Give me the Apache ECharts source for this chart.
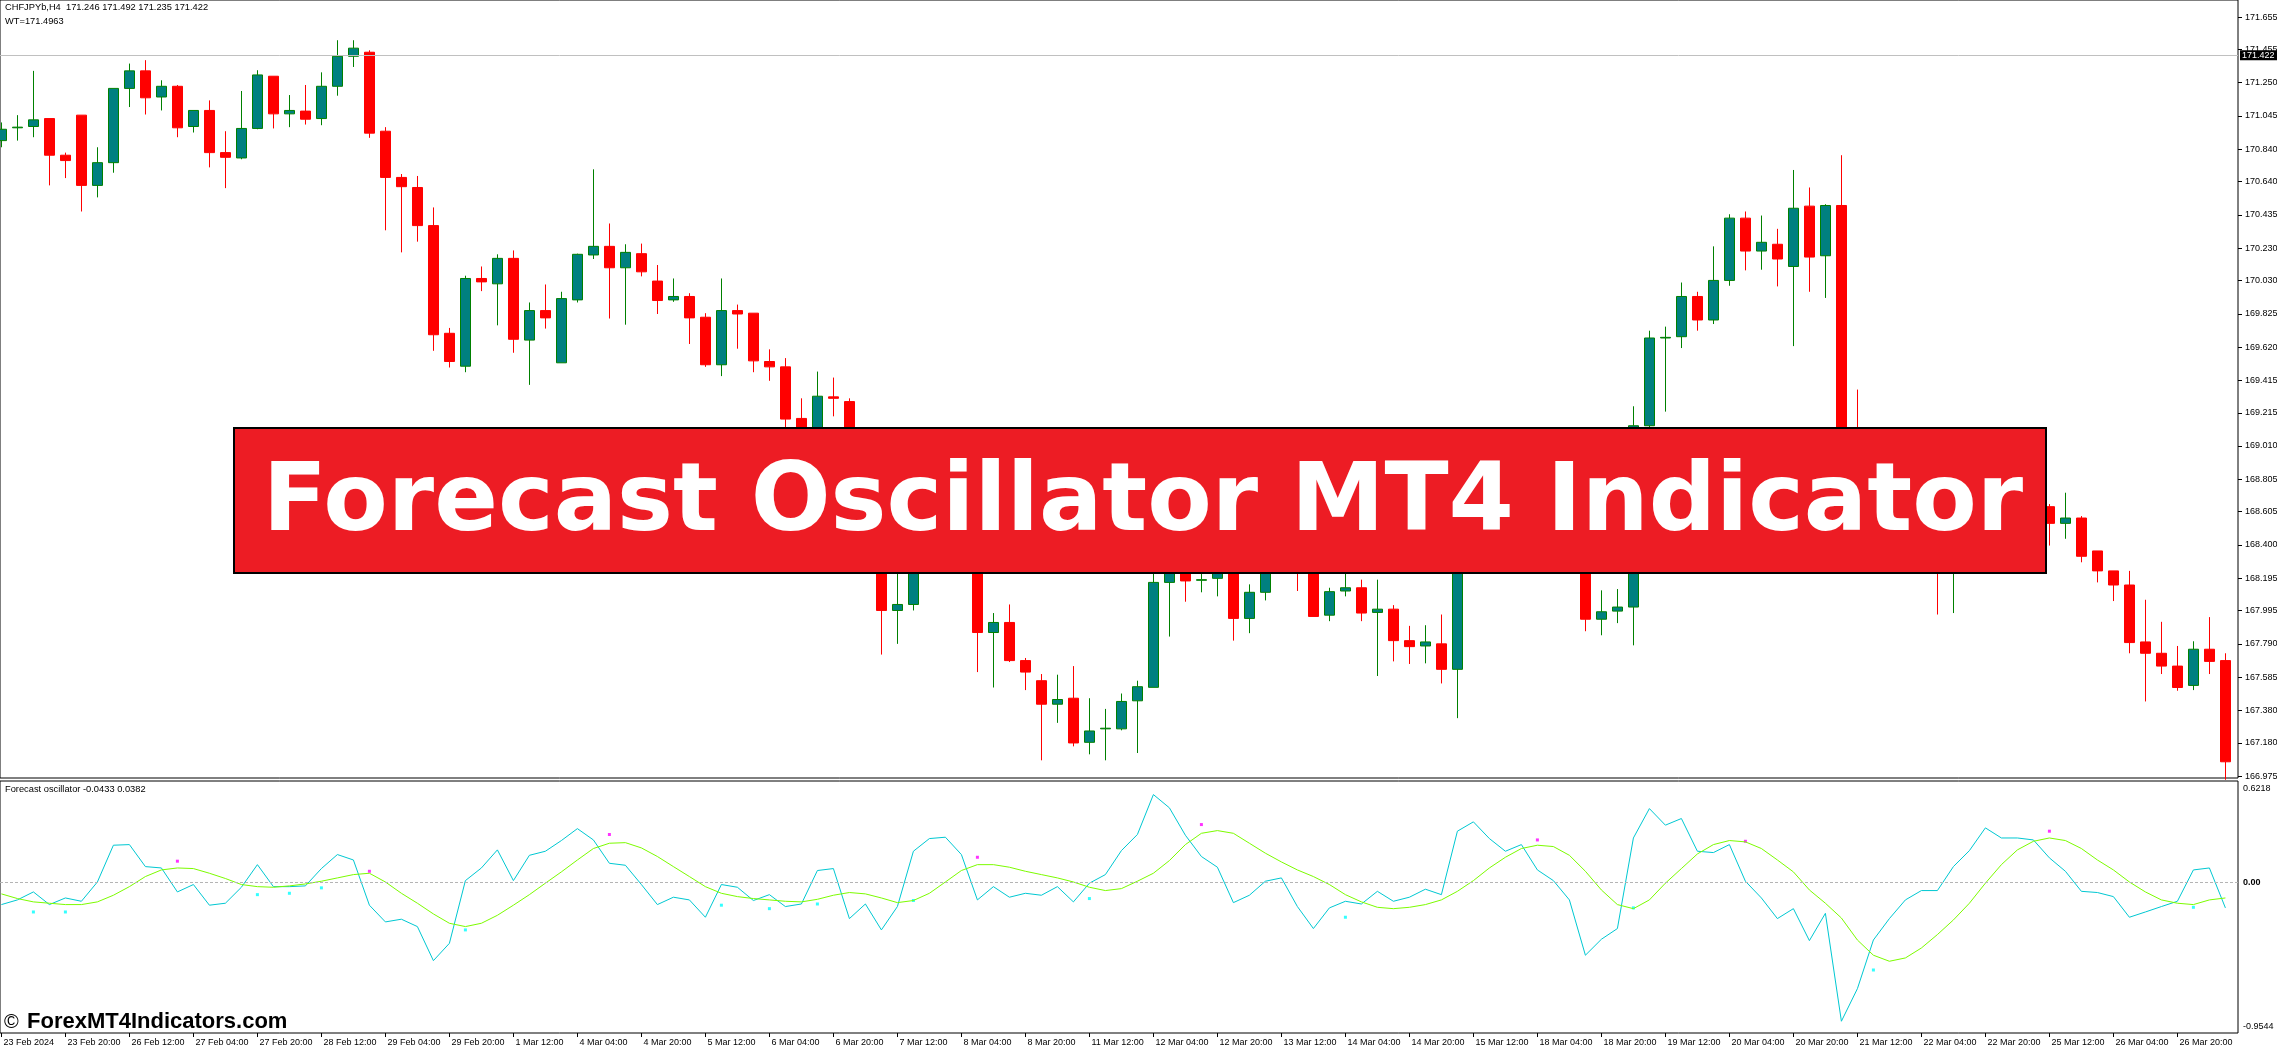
<!DOCTYPE html>
<html><head><meta charset="utf-8">
<script src="https://cdn.jsdelivr.net/npm/echarts@6/dist/echarts.min.js"></script>
<style>html,body{margin:0;padding:0;background:#fff;overflow:hidden}#c{width:2277px;height:1048px}</style>
</head><body><div id="c"></div><script>
// ---------- DATA ----------
const headerLine1 = 'CHFJPYb,H4  171.246 171.492 171.235 171.422';
const headerLine2 = 'WT=171.4963';
const oscHeader = 'Forecast oscillator -0.0433 0.0382';
const bannerText = 'Forecast Oscillator MT4 Indicator';
const bidPrice = 171.422;
const bidLabel = '171.422';

const opens = [170.893,170.972,170.980,171.029,170.803,171.050,170.617,170.757,171.215,171.323,
171.162,171.228,170.980,171.079,170.819,170.786,170.968,171.290,171.058,171.075,
171.029,171.228,171.413,171.438,170.951,170.666,170.604,170.369,169.705,169.502,
170.043,170.010,170.167,169.663,169.845,169.523,169.911,170.188,170.241,170.109,
170.196,170.027,169.911,169.932,169.804,169.511,169.845,169.829,169.531,169.498,
169.180,169.030,169.313,169.284,168.950,168.600,167.996,168.033,168.350,168.600,
168.450,168.550,167.860,167.922,167.687,167.563,167.418,167.455,167.183,167.266,
167.266,167.439,167.522,168.169,168.350,168.182,168.194,168.300,167.947,168.108,
168.250,168.300,168.250,167.967,168.116,168.136,167.984,168.004,167.810,167.777,
167.790,167.633,168.700,168.850,168.700,168.550,168.720,168.620,168.500,168.550,
167.942,167.992,168.017,169.135,169.676,169.684,169.932,169.787,170.031,170.415,
170.212,170.254,170.117,170.489,170.183,170.493,168.950,168.750,168.550,168.700,
168.550,168.400,168.300,168.500,168.650,168.800,168.700,168.750,168.636,168.533,
168.566,168.363,168.240,168.153,167.802,167.732,167.653,167.534,167.757,167.687];

const closes = [170.963,170.976,171.021,170.803,170.770,170.617,170.757,171.215,171.323,171.157,
171.228,170.972,171.079,170.819,170.790,170.968,171.298,171.058,171.079,171.025,
171.228,171.413,171.463,170.939,170.666,170.609,170.369,169.696,169.531,170.043,
170.022,170.167,169.668,169.845,169.800,169.919,170.192,170.241,170.109,170.204,
170.084,169.907,169.932,169.800,169.511,169.845,169.824,169.535,169.498,169.176,
169.020,169.317,169.304,168.950,168.600,167.996,168.033,168.350,168.600,168.450,
168.550,167.860,167.922,167.687,167.616,167.418,167.447,167.179,167.253,167.270,
167.435,167.526,168.169,168.400,168.178,168.186,168.300,167.947,168.108,168.250,
168.300,168.240,167.959,168.112,168.136,167.980,168.004,167.810,167.773,167.802,
167.633,168.700,168.850,168.700,168.550,168.720,168.620,168.500,168.550,167.942,
167.988,168.017,169.135,169.676,169.680,169.932,169.787,170.031,170.415,170.212,
170.266,170.163,170.476,170.175,170.493,168.900,168.750,168.550,168.700,168.550,
168.400,168.300,168.500,168.650,168.800,168.700,168.750,168.650,168.533,168.566,
168.330,168.240,168.153,167.798,167.732,167.653,167.521,167.757,167.682,167.063];

const lows = [170.852,170.893,170.914,170.617,170.662,170.456,170.543,170.695,171.100,171.054,
171.079,170.914,170.943,170.728,170.600,170.778,170.963,170.968,170.976,170.992,
170.988,171.170,171.347,170.910,170.340,170.204,170.270,169.597,169.494,169.465,
169.965,169.754,169.585,169.387,169.734,169.523,169.895,170.163,169.796,169.758,
170.056,169.824,169.899,169.639,169.498,169.441,169.610,169.465,169.412,169.070,
168.950,168.960,169.193,168.880,168.500,167.724,167.790,167.996,168.300,168.350,
168.350,167.616,167.521,167.678,167.505,167.072,167.303,167.158,167.109,167.072,
167.257,167.117,167.522,167.835,168.050,168.108,168.083,167.810,167.856,168.058,
168.240,168.116,167.959,167.930,168.083,167.930,167.592,167.682,167.666,167.670,
167.546,167.332,168.600,168.600,168.450,168.500,168.500,168.400,168.380,167.868,
167.843,167.918,167.781,169.119,169.222,169.614,169.721,169.762,169.998,170.093,
170.097,169.994,169.626,169.961,169.923,168.800,168.600,168.450,168.450,168.400,
168.300,167.971,167.980,168.400,168.550,168.600,168.600,168.550,168.396,168.438,
168.293,168.169,168.054,167.732,167.435,167.604,167.501,167.505,167.604,166.952];

const highs = [171.005,171.050,171.323,171.029,170.819,171.050,170.852,171.215,171.368,171.389,
171.265,171.236,171.079,171.141,170.951,171.199,171.327,171.290,171.174,171.236,
171.314,171.512,171.512,171.450,170.976,170.687,170.675,170.481,169.738,170.060,
170.117,170.192,170.216,169.895,170.006,169.961,170.196,170.716,170.382,170.254,
170.258,170.126,170.043,169.952,169.829,170.043,169.882,169.829,169.606,169.552,
169.304,169.469,169.432,169.304,169.000,168.650,168.300,168.450,168.700,168.680,
168.650,168.600,167.980,168.033,167.703,167.604,167.600,167.653,167.455,167.389,
167.484,167.563,168.250,168.450,168.420,168.300,168.350,168.350,168.157,168.300,
168.380,168.350,168.300,168.136,168.250,168.186,168.186,168.029,167.901,167.905,
167.971,168.750,168.950,168.950,168.800,168.850,168.800,168.680,168.650,168.600,
168.120,168.128,169.255,169.721,169.746,170.018,169.961,170.241,170.439,170.456,
170.431,170.349,170.712,170.604,170.501,170.803,169.358,168.900,168.800,168.750,
168.650,168.500,168.600,168.750,168.900,168.900,168.850,168.800,168.652,168.722,
168.578,168.363,168.240,168.240,168.062,167.926,167.777,167.806,167.955,167.732];

// Forecast oscillator (cyan) and its signal line (green)
const foLine = [-0.146,-0.115,-0.062,-0.146,-0.102,-0.124,0.004,0.248,0.252,0.106,
0.097,-0.062,-0.013,-0.150,-0.137,-0.031,0.119,-0.027,-0.027,-0.022,
0.093,0.186,0.150,-0.150,-0.261,-0.243,-0.292,-0.518,-0.403,0.013,
0.097,0.217,0.013,0.181,0.208,0.279,0.358,0.283,0.128,0.115,
-0.013,-0.146,-0.097,-0.115,-0.230,-0.013,-0.031,-0.119,-0.080,-0.159,
-0.142,0.080,0.093,-0.239,-0.142,-0.314,-0.159,0.208,0.292,0.301,
0.186,-0.115,-0.027,-0.097,-0.071,-0.084,-0.027,-0.128,-0.004,0.053,
0.212,0.319,0.584,0.496,0.314,0.173,0.102,-0.133,-0.084,0.009,
0.031,-0.159,-0.305,-0.168,-0.124,-0.142,-0.058,-0.124,-0.097,-0.044,
-0.080,0.341,0.403,0.292,0.208,0.252,0.084,0.013,-0.115,-0.482,
-0.376,-0.305,0.296,0.491,0.381,0.425,0.208,0.199,0.252,0.009,
-0.102,-0.239,-0.173,-0.385,-0.204,-0.920,-0.704,-0.381,-0.239,-0.115,
-0.053,-0.053,0.106,0.212,0.363,0.296,0.296,0.283,0.164,0.075,
-0.058,-0.066,-0.093,-0.230,-0.195,-0.159,-0.124,0.084,0.097,-0.168];

const signalLine = [-0.075,-0.106,-0.128,-0.137,-0.146,-0.146,-0.128,-0.084,-0.027,0.040,
0.084,0.097,0.093,0.062,0.027,-0.013,-0.027,-0.031,-0.022,-0.009,
0.009,0.031,0.053,0.062,0.004,-0.071,-0.137,-0.208,-0.270,-0.292,
-0.270,-0.217,-0.150,-0.080,-0.004,0.071,0.150,0.226,0.261,0.265,
0.230,0.173,0.106,0.040,-0.027,-0.071,-0.093,-0.106,-0.115,-0.124,
-0.128,-0.111,-0.084,-0.066,-0.075,-0.102,-0.133,-0.119,-0.071,0.004,
0.080,0.119,0.119,0.102,0.075,0.053,0.031,0.004,-0.031,-0.053,
-0.040,0.009,0.062,0.146,0.252,0.327,0.345,0.327,0.261,0.195,
0.137,0.084,0.040,-0.013,-0.080,-0.128,-0.164,-0.173,-0.164,-0.146,
-0.115,-0.058,0.013,0.097,0.168,0.226,0.248,0.239,0.181,0.075,
-0.049,-0.146,-0.173,-0.115,-0.004,0.093,0.190,0.252,0.279,0.270,
0.226,0.150,0.071,-0.049,-0.137,-0.235,-0.381,-0.482,-0.522,-0.500,
-0.434,-0.345,-0.248,-0.137,-0.004,0.119,0.217,0.274,0.296,0.279,
0.226,0.150,0.084,0.004,-0.062,-0.115,-0.137,-0.146,-0.115,-0.102];

// signal dots
const upDotBars = [11,23,38,61,75,96,109,128];
const upDotVals = [0.142,0.075,0.319,0.168,0.385,0.283,0.274,0.341];
const dnDotBars = [2,4,16,18,20,29,45,48,51,57,68,84,102,117,137];
const dnDotVals = [-0.195,-0.195,-0.080,-0.071,-0.035,-0.314,-0.150,-0.173,-0.142,-0.119,-0.106,-0.230,-0.168,-0.580,-0.164];

// axis tick labels
const priceTicks = [171.655,171.455,171.250,171.045,170.840,170.640,170.435,170.230,170.030,169.825,169.620,169.415,
169.215,169.010,168.805,168.605,168.400,168.195,167.995,167.790,167.585,167.380,167.180,166.975];
const oscTicks = [0.6218, 0, -0.9544];
const oscTickLabels = ['0.6218', '0.00', '-0.9544'];
const timeLabelBars = [0,4,8,12,16,20,24,28,32,36,40,44,48,52,56,60,64,68,72,76,80,84,88,92,96,100,104,108,112,116,120,124,128,132,136];
const timeLabels = ['23 Feb 2024','23 Feb 20:00','26 Feb 12:00','27 Feb 04:00','27 Feb 20:00','28 Feb 12:00','29 Feb 04:00',
'29 Feb 20:00','1 Mar 12:00','4 Mar 04:00','4 Mar 20:00','5 Mar 12:00','6 Mar 04:00','6 Mar 20:00','7 Mar 12:00',
'8 Mar 04:00','8 Mar 20:00','11 Mar 12:00','12 Mar 04:00','12 Mar 20:00','13 Mar 12:00','14 Mar 04:00','14 Mar 20:00',
'15 Mar 12:00','18 Mar 04:00','18 Mar 20:00','19 Mar 12:00','20 Mar 04:00','20 Mar 20:00','21 Mar 12:00','22 Mar 04:00',
'22 Mar 20:00','25 Mar 12:00','26 Mar 04:00','26 Mar 20:00'];

// ---------- BUILD ----------
const candleData = opens.map((o, i) => [i, o, closes[i], lows[i], highs[i]]);
const foData = foLine.map((v, i) => [i, v]);
const sigData = signalLine.map((v, i) => [i, v]);
const upDots = upDotBars.map((b, k) => [b, upDotVals[k]]);
const dnDots = dnDotBars.map((b, k) => [b, dnDotVals[k]]);

const FONT = '"Liberation Sans", Arial, sans-serif';
const X_MIN = -0.0875, X_MAX = 139.7875;
const small = {fontSize: 9.3, color: '#000', fontFamily: FONT, fontWeight: 'normal'};

const chart = echarts.init(document.getElementById('c'), null, {renderer: 'canvas', width: 2277, height: 1048});
chart.setOption({
  animation: false,
  backgroundColor: '#ffffff',
  textStyle: {fontFamily: FONT},
  title: [
    {text: headerLine1, left: 5, top: 3, padding: 0, textStyle: small},
    {text: headerLine2, left: 5, top: 17, padding: 0, textStyle: small},
    {text: oscHeader, left: 5, top: 785, padding: 0, textStyle: small}
  ],
  grid: [
    {left: 0, top: 0, width: 2238, height: 778, show: true, borderColor: '#000', borderWidth: 1,
     backgroundColor: 'transparent', containLabel: false, outerBoundsMode: 'none'},
    {left: 0, top: 781, width: 2238, height: 252, show: true, borderColor: '#000', borderWidth: 1,
     backgroundColor: 'transparent', containLabel: false, outerBoundsMode: 'none'}
  ],
  xAxis: [
    {type: 'value', gridIndex: 0, min: X_MIN, max: X_MAX, show: false, axisLine: {onZero: false}},
    {type: 'value', gridIndex: 1, min: X_MIN, max: X_MAX, position: 'bottom',
     axisLine: {show: false, onZero: false}, splitLine: {show: false},
     axisTick: {show: true, customValues: timeLabelBars, length: 4, lineStyle: {color: '#000'}},
     axisLabel: {customValues: timeLabelBars, formatter: v => timeLabels[timeLabelBars.indexOf(v)],
                 fontSize: 9, color: '#000', fontFamily: FONT, align: 'left', margin: 5, padding: [0, 0, 0, 2]}}
  ],
  yAxis: [
    {type: 'value', gridIndex: 0, position: 'right', min: 166.963, max: 171.760,
     axisLine: {show: false, onZero: false}, splitLine: {show: false},
     axisTick: {show: true, customValues: priceTicks, length: 4, lineStyle: {color: '#000'}},
     axisLabel: {customValues: priceTicks, formatter: v => v.toFixed(3), fontSize: 9, color: '#000', fontFamily: FONT, margin: 7}},
    {type: 'value', gridIndex: 1, position: 'right', min: -0.998, max: 0.674,
     axisLine: {show: false, onZero: false}, splitLine: {show: false},
     axisTick: {show: false},
     axisLabel: {customValues: oscTicks,
                 formatter: v => { const t = oscTickLabels[oscTicks.indexOf(v)]; return v === 0 ? '{b|' + t + '}' : t; },
                 rich: {b: {fontSize: 9, fontWeight: 'bold', color: '#000', fontFamily: FONT}},
                 fontSize: 9, color: '#000', fontFamily: FONT, margin: 5}}
  ],
  series: [
    {type: 'candlestick', xAxisIndex: 0, yAxisIndex: 0, data: candleData, barWidth: 11,
     itemStyle: {color: '#008080', color0: '#FF0000', borderColor: '#008000', borderColor0: '#FF0000', borderWidth: 1},
     markLine: {silent: true, symbol: ['none', 'none'], animation: false,
       data: [{yAxis: bidPrice}],
       lineStyle: {color: '#C0C0C0', width: 1, type: 'solid'},
       label: {show: true, position: 'end', formatter: bidLabel, color: '#fff', backgroundColor: '#000',
               fontSize: 9, fontFamily: FONT, padding: [1, 3, 0, 2], distance: 2}}},
    {type: 'line', xAxisIndex: 1, yAxisIndex: 1, data: foData, symbol: 'none', silent: true,
     lineStyle: {color: '#00C8D2', width: 1},
     markLine: {silent: true, symbol: ['none', 'none'], animation: false, data: [{yAxis: 0}],
       lineStyle: {color: '#B4B4B4', width: 1, type: [3, 2]}, label: {show: false}}},
    {type: 'line', xAxisIndex: 1, yAxisIndex: 1, data: sigData, symbol: 'none', silent: true,
     lineStyle: {color: '#7CFC00', width: 1}},
    {type: 'scatter', xAxisIndex: 1, yAxisIndex: 1, data: upDots, symbol: 'rect', symbolSize: 3,
     itemStyle: {color: '#FF00FF'}, silent: true},
    {type: 'scatter', xAxisIndex: 1, yAxisIndex: 1, data: dnDots, symbol: 'rect', symbolSize: 3,
     itemStyle: {color: '#00FFFF'}, silent: true}
  ],
  graphic: [
    {type: 'rect', z: 100, shape: {x: 234, y: 428, width: 1812, height: 145},
     style: {fill: '#ED1C24', stroke: '#000', lineWidth: 2}},
    {type: 'text', z: 101, x: 1143, y: 506,
     style: {text: bannerText, fill: '#fff', font: 'bold 94px "DejaVu Sans"', align: 'center', verticalAlign: 'middle'}},
    {type: 'text', z: 101, x: 4, y: 1022,
     style: {text: '©', fill: '#000', font: '20px "Liberation Sans"', align: 'left', verticalAlign: 'middle'}},
    {type: 'text', z: 101, x: 27, y: 1022,
     style: {text: 'ForexMT4Indicators.com', fill: '#000', font: 'bold 22px "Liberation Sans"', align: 'left', verticalAlign: 'middle'}}
  ]
});
</script></body></html>
